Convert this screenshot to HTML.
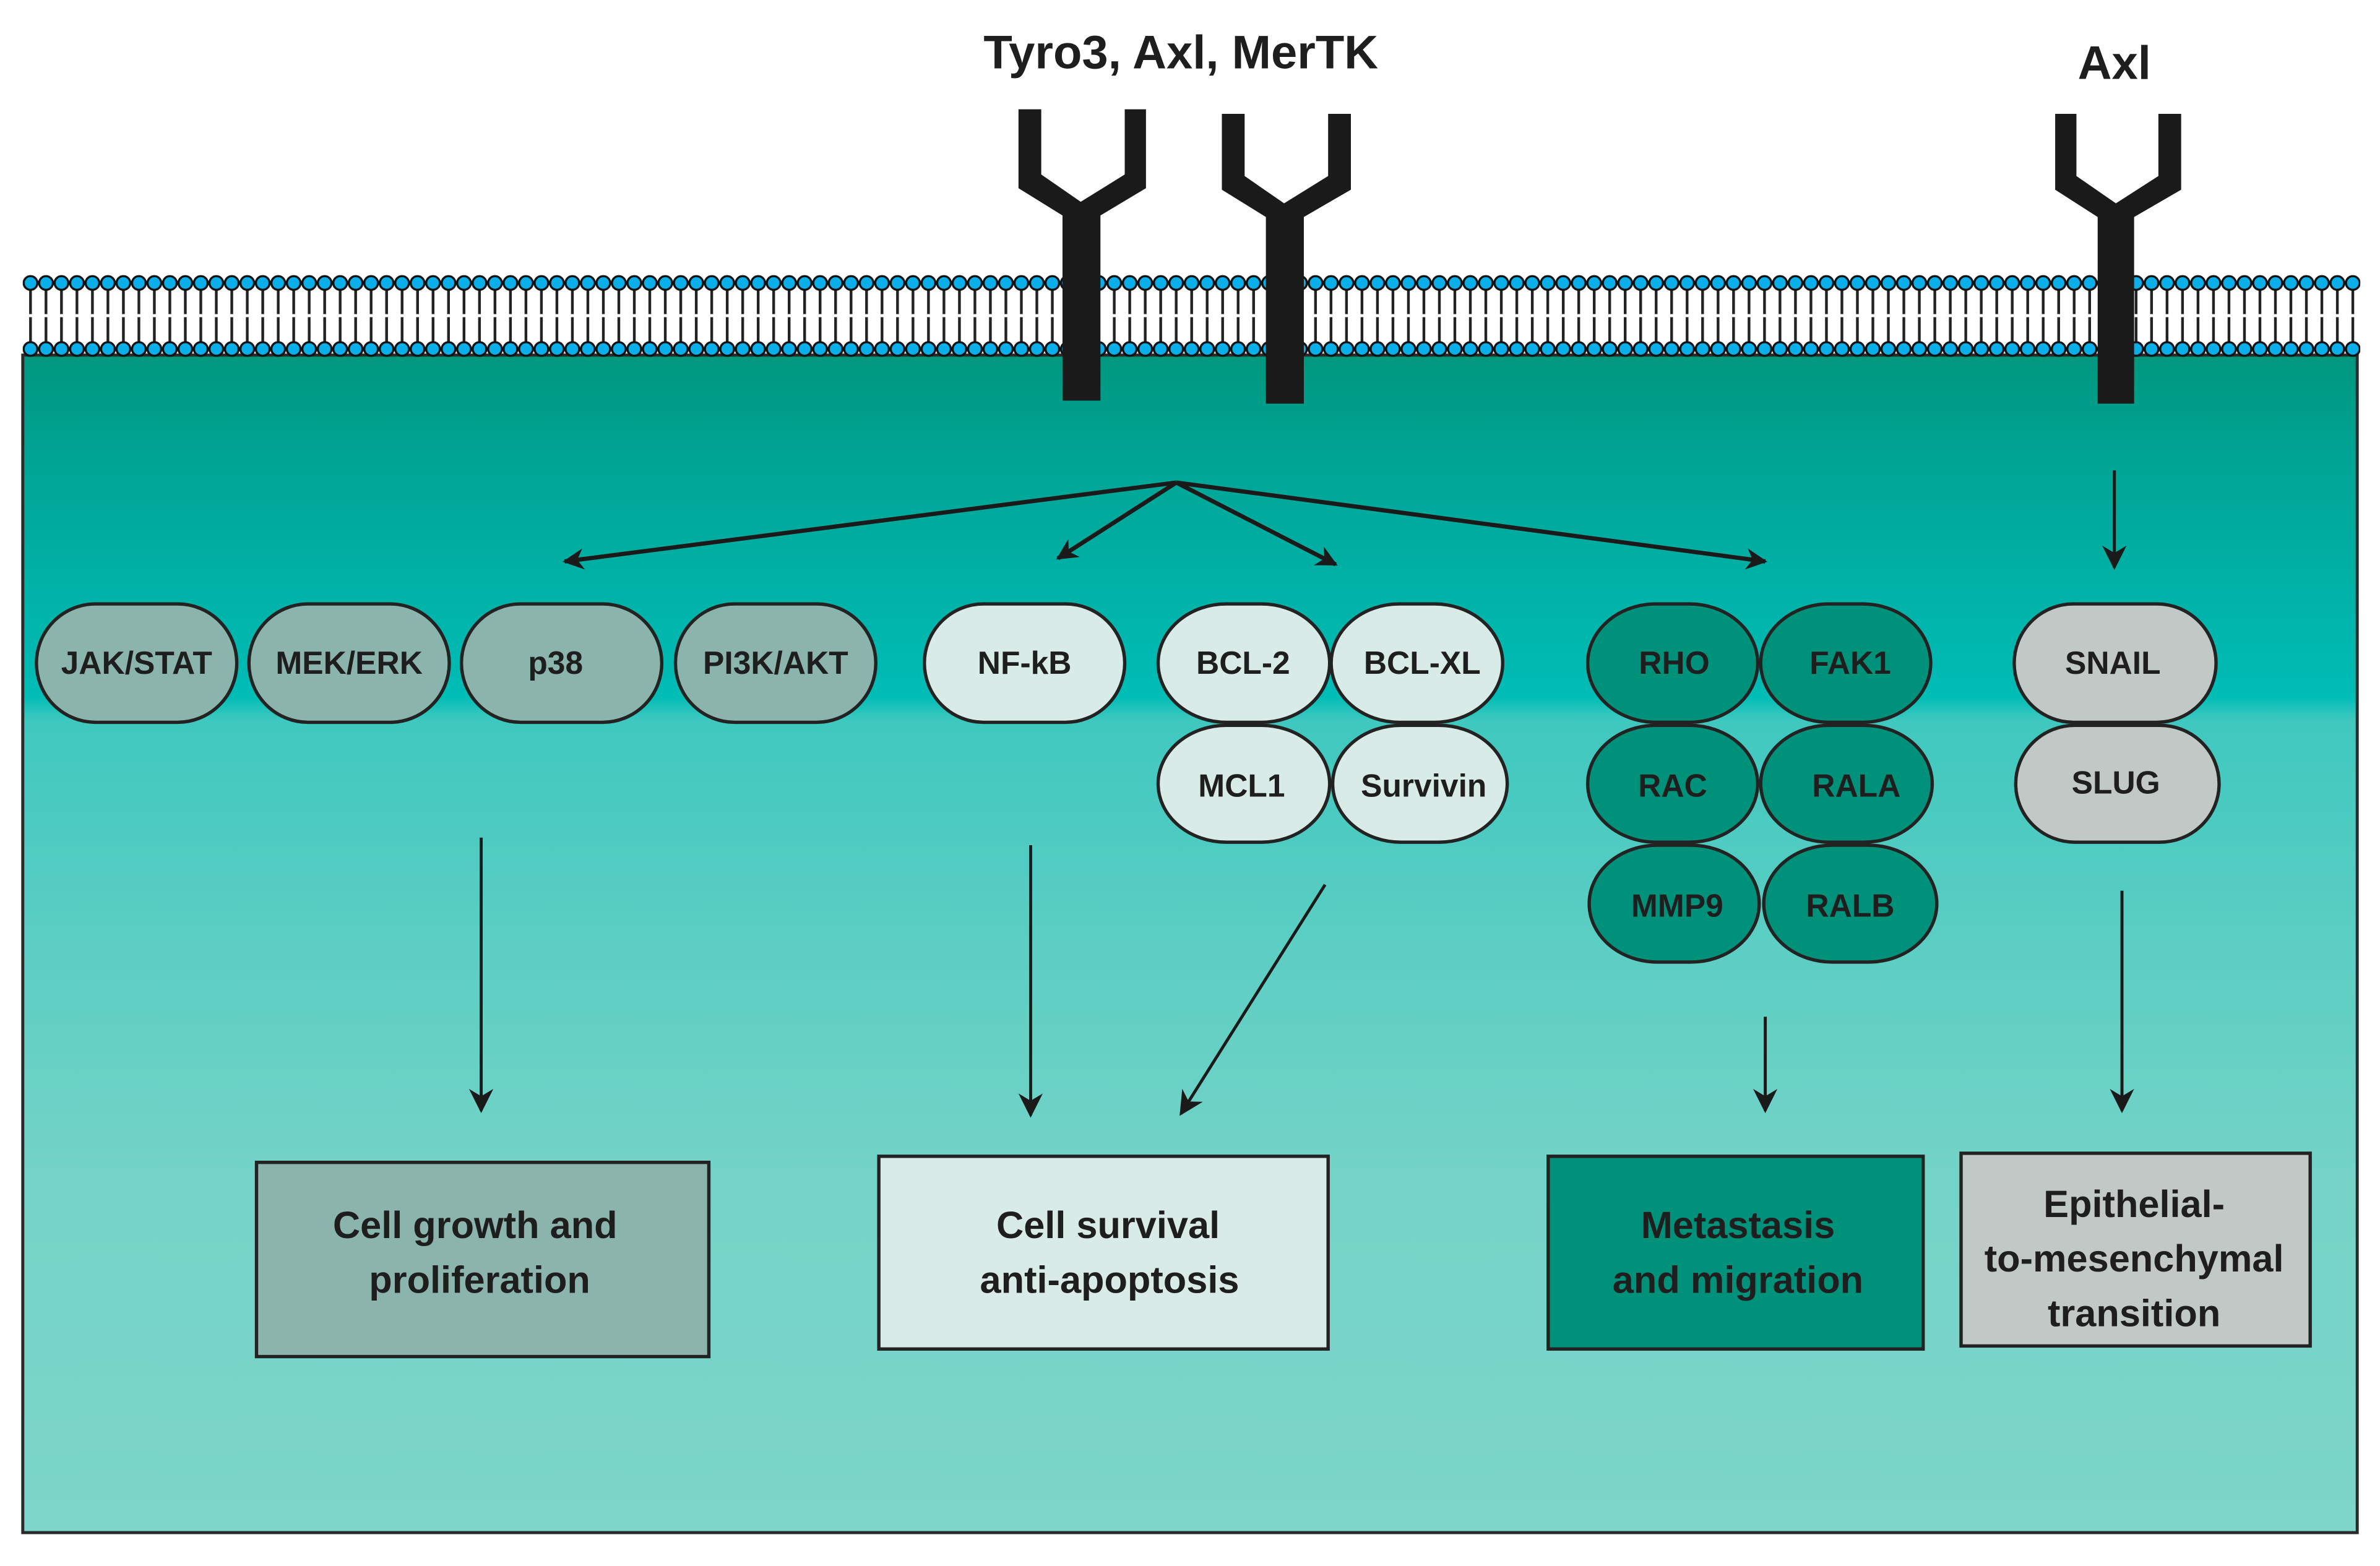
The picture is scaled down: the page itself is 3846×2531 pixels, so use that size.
<!DOCTYPE html>
<html><head><meta charset="utf-8"><style>
html,body{margin:0;padding:0;background:#fff}
svg{display:block}
text{font-family:"Liberation Sans",sans-serif;font-weight:bold;fill:#1e1e1e;text-anchor:middle}
</style></head><body>
<svg width="3846" height="2531" viewBox="0 0 1568 1032" preserveAspectRatio="none" xmlns="http://www.w3.org/2000/svg">
<defs>
<linearGradient id="bg" x1="0" y1="0" x2="0" y2="1">
<stop offset="0" stop-color="#00977e"/>
<stop offset="0.08" stop-color="#00a393"/>
<stop offset="0.29" stop-color="#00bdb6"/>
<stop offset="0.31" stop-color="#3fc8bf"/>
<stop offset="0.5" stop-color="#5ccec3"/>
<stop offset="0.7" stop-color="#74d3c7"/>
<stop offset="1" stop-color="#7cd6c9"/>
</linearGradient>
<pattern id="mem" x="15" y="176" width="10.2" height="64" patternUnits="userSpaceOnUse">
<line x1="5.1" y1="14" x2="5.1" y2="31" stroke="#222" stroke-width="1.8"/>
<line x1="5.1" y1="33" x2="5.1" y2="50" stroke="#222" stroke-width="1.8"/>
<circle cx="5.1" cy="10.5" r="4.5" fill="#0aaee8" stroke="#111" stroke-width="1.4"/>
<circle cx="5.1" cy="54" r="4.5" fill="#0aaee8" stroke="#111" stroke-width="1.4"/>
</pattern>
<marker id="ah2" viewBox="0 0 10 10" refX="9" refY="5" markerWidth="20" markerHeight="16" markerUnits="userSpaceOnUse" orient="auto">
<path d="M0,0 L10,5 L0,10 L3,5 z" fill="#1a1a1a"/>
</marker>
<marker id="ah3" viewBox="0 0 10 10" refX="9" refY="5" markerWidth="22" markerHeight="14" markerUnits="userSpaceOnUse" orient="auto">
<path d="M0,0 L10,5 L0,10 L3,5 z" fill="#1a1a1a"/>
</marker>
</defs>

<text x="778" y="45" font-size="31">Tyro3, Axl, MerTK</text>
<text x="1393" y="52" font-size="31">Axl</text>

<rect x="15" y="234" width="1538" height="776" fill="url(#bg)" stroke="#2a2a2a" stroke-width="2"/>
<rect x="15" y="176" width="1540" height="64" fill="url(#mem)"/>

<g fill="#1a1a1a">
<polygon points="671,72 686,72 686,115 712,133 741,115 741,72 755,72 755,124 725,142 725,264 700,264 700,142 671,124"/>
<polygon points="805,75 820,75 820,116 846,134 875,116 875,75 890,75 890,125 859,143 859,266 834,266 834,143 805,125"/>
<polygon points="1354,75 1368,75 1368,116 1394,134 1422,116 1422,75 1437,75 1437,125 1406,143 1406,266 1382,266 1382,143 1354,125"/>
</g>

<g stroke="#1a1a1a" stroke-width="2.8" fill="none">
<line x1="775" y1="318" x2="372" y2="370" marker-end="url(#ah3)"/>
<line x1="775" y1="318" x2="697" y2="368" marker-end="url(#ah3)"/>
<line x1="775" y1="318" x2="880" y2="372" marker-end="url(#ah3)"/>
<line x1="775" y1="318" x2="1163" y2="370" marker-end="url(#ah3)"/>
</g>
<g stroke="#1a1a1a" stroke-width="2" fill="none">
<line x1="1393" y1="310" x2="1393" y2="374" marker-end="url(#ah2)"/>
<line x1="317" y1="552" x2="317" y2="732" marker-end="url(#ah2)"/>
<line x1="679" y1="557" x2="679" y2="735" marker-end="url(#ah2)"/>
<line x1="873" y1="583" x2="778" y2="734" marker-end="url(#ah2)"/>
<line x1="1163" y1="670" x2="1163" y2="732" marker-end="url(#ah2)"/>
<line x1="1398" y1="587" x2="1398" y2="732" marker-end="url(#ah2)"/>
</g>

<g stroke="#222" stroke-width="2.2">
<rect x="24" y="398" width="132" height="78" rx="39" fill="#8bb5ac"/>
<rect x="164" y="398" width="132" height="78" rx="39" fill="#8bb5ac"/>
<rect x="304" y="398" width="132" height="78" rx="39" fill="#8bb5ac"/>
<rect x="445" y="398" width="132" height="78" rx="39" fill="#8bb5ac"/>
<rect x="609" y="398" width="132" height="78" rx="39" fill="#d9ebe7"/>
<rect x="763" y="398" width="113" height="78" rx="45" fill="#d9ebe7"/>
<rect x="877" y="398" width="113" height="78" rx="45" fill="#d9ebe7"/>
<rect x="763" y="478" width="113" height="77" rx="45" fill="#d9ebe7"/>
<rect x="878" y="478" width="115" height="77" rx="45" fill="#d9ebe7"/>
<rect x="1046" y="398" width="112" height="78" rx="45" fill="#00917a"/>
<rect x="1160" y="398" width="112" height="78" rx="45" fill="#00917a"/>
<rect x="1046" y="478" width="112" height="77" rx="45" fill="#00917a"/>
<rect x="1160" y="478" width="113" height="77" rx="45" fill="#00917a"/>
<rect x="1047" y="557" width="112" height="77" rx="45" fill="#00917a"/>
<rect x="1162" y="557" width="114" height="77" rx="45" fill="#00917a"/>
<rect x="1327" y="398" width="133" height="78" rx="39" fill="#c2c8c5"/>
<rect x="1328" y="478" width="134" height="77" rx="39" fill="#c2c8c5"/>
</g>

<g font-size="21">
<text x="90" y="444">JAK/STAT</text>
<text x="230" y="444">MEK/ERK</text>
<text x="366" y="444">p38</text>
<text x="511" y="444">PI3K/AKT</text>
<text x="675" y="444">NF-kB</text>
<text x="819" y="444">BCL-2</text>
<text x="937" y="444">BCL-XL</text>
<text x="818" y="525">MCL1</text>
<text x="938" y="525">Survivin</text>
<text x="1103" y="444">RHO</text>
<text x="1219" y="444">FAK1</text>
<text x="1102" y="525">RAC</text>
<text x="1223" y="525">RALA</text>
<text x="1105" y="604">MMP9</text>
<text x="1219" y="604">RALB</text>
<text x="1392" y="444">SNAIL</text>
<text x="1394" y="523">SLUG</text>
</g>

<g stroke="#222" stroke-width="2.2">
<rect x="169" y="766" width="298" height="128" fill="#8bb5ac"/>
<rect x="579" y="762" width="296" height="127" fill="#d9ebe7"/>
<rect x="1020" y="762" width="247" height="127" fill="#00917a"/>
<rect x="1292" y="760" width="230" height="127" fill="#c2c8c5"/>
</g>
<g font-size="25">
<text x="313" y="816">Cell growth and</text>
<text x="316" y="852">proliferation</text>
<text x="730" y="816">Cell survival</text>
<text x="731" y="852">anti-apoptosis</text>
<text x="1145" y="816">Metastasis</text>
<text x="1145" y="852">and migration</text>
<text x="1406" y="802">Epithelial-</text>
<text x="1406" y="838">to-mesenchymal</text>
<text x="1406" y="874">transition</text>
</g>
</svg>
</body></html>
